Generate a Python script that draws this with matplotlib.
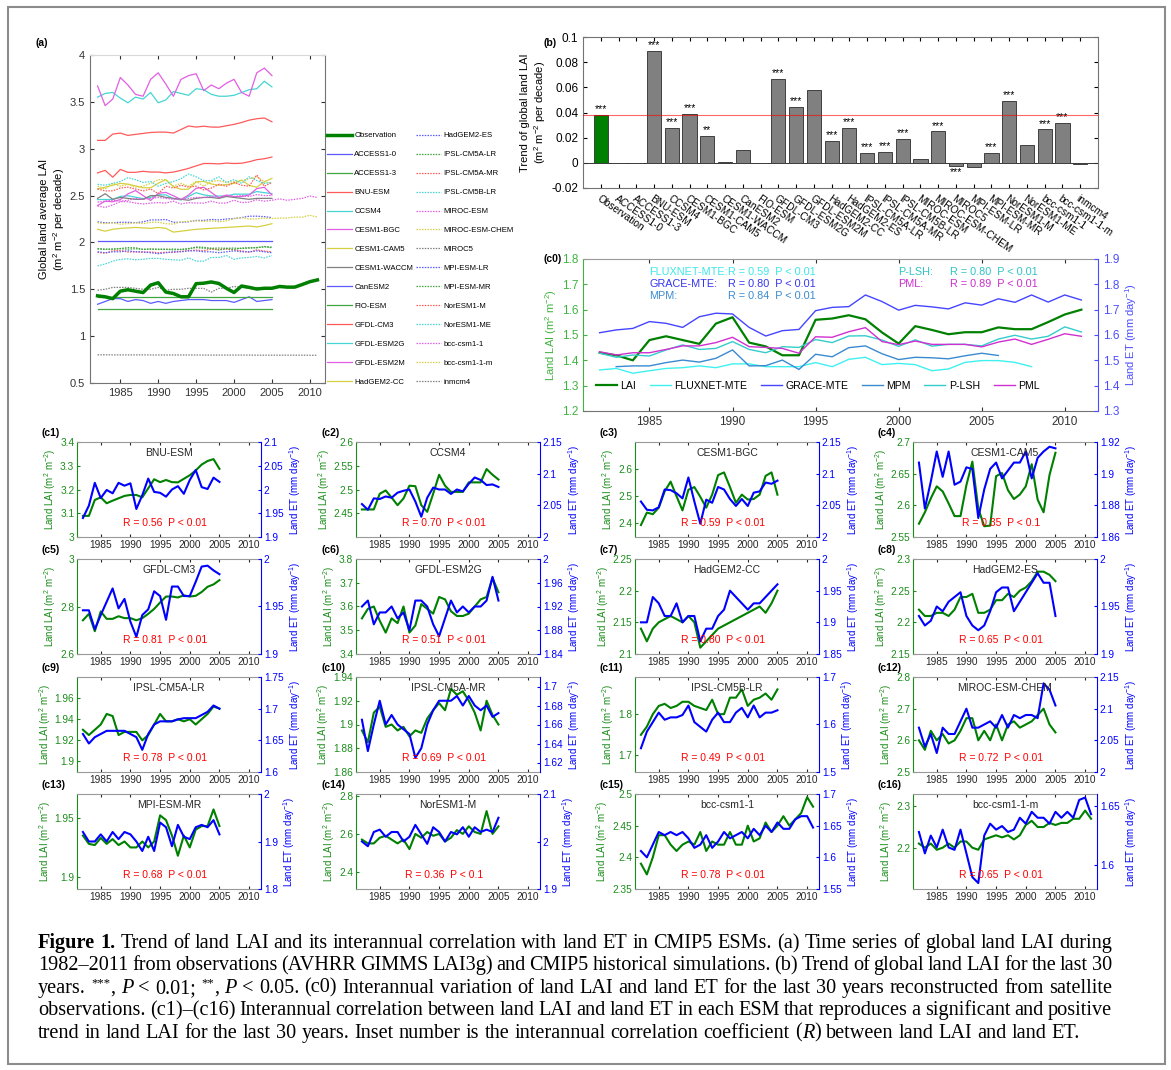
import re
import matplotlib
matplotlib.use("Agg")
import matplotlib.pyplot as plt
from matplotlib.patches import Rectangle
from matplotlib.lines import Line2D
import numpy as np

plt.rcParams["font.family"] = ["Liberation Sans", "DejaVu Sans"]
plt.rcParams["mathtext.fontset"] = "custom"
plt.rcParams["mathtext.rm"] = "Liberation Sans"
plt.rcParams["mathtext.it"] = "Liberation Sans:italic"
plt.rcParams["xtick.direction"] = "in"
plt.rcParams["ytick.direction"] = "in"
plt.rcParams["axes.linewidth"] = 0.8

W, H = 1171, 1070

# ---------------- data ----------------
yr24 = np.arange(1982, 2006)
yr30 = np.arange(1982, 2012)

obs_lai = [1.43, 1.42, 1.40, 1.48, 1.495, 1.48, 1.465, 1.545, 1.57, 1.47, 1.455, 1.42, 1.42, 1.56, 1.565,
           1.578, 1.562, 1.51, 1.466, 1.535, 1.52, 1.503, 1.511, 1.511, 1.53, 1.523, 1.523, 1.551, 1.581, 1.60]

# c0: satellite ET products
et_fluxnet = [1.462, 1.468, 1.449, 1.459, 1.468, 1.471, 1.478, 1.471, 1.486, 1.486, 1.475, 1.475, 1.475, 1.491,
              1.475, 1.504, 1.512, 1.483, 1.488, 1.483, 1.459, 1.466, 1.492, 1.499, 1.499, 1.492, 1.475]
et_grace = [1.609, 1.620, 1.626, 1.653, 1.646, 1.630, 1.672, 1.686, 1.683, 1.630, 1.596, 1.617, 1.622, 1.696, 1.709,
            1.712, 1.758, 1.732, 1.698, 1.717, 1.711, 1.703, 1.727, 1.718, 1.743, 1.729, 1.758, 1.730, 1.758, 1.738]
et_mpm = [1.475, 1.478, 1.478, 1.491, 1.501, 1.493, 1.508, 1.541, 1.478, 1.479, 1.501, 1.464, 1.524, 1.514, 1.550,
          1.557, 1.526, 1.503, 1.512, 1.510, 1.506, 1.518, 1.528, 1.519]
et_plsh = [1.528, 1.512, 1.521, 1.517, 1.541, 1.561, 1.543, 1.547, 1.574, 1.543, 1.530, 1.554, 1.551, 1.582, 1.570,
           1.596, 1.597, 1.580, 1.555, 1.581, 1.556, 1.563, 1.563, 1.557, 1.584, 1.599, 1.584, 1.595, 1.632, 1.612]
et_pml = [1.534, 1.521, 1.530, 1.530, 1.543, 1.557, 1.557, 1.570, 1.591, 1.554, 1.551, 1.547, 1.528, 1.593, 1.591,
          1.613, 1.629, 1.574, 1.562, 1.576, 1.563, 1.563, 1.563, 1.553, 1.572, 1.584, 1.563, 1.583, 1.605, 1.595]

# ESM land LAI / ET
lai_bnu = [3.089, 3.089, 3.156, 3.167, 3.142, 3.153, 3.163, 3.173, 3.177, 3.177, 3.167, 3.205, 3.243, 3.231, 3.240,
           3.231, 3.230, 3.245, 3.260, 3.280, 3.305, 3.320, 3.328, 3.287]
et_bnu = [1.940, 1.966, 2.014, 1.982, 1.999, 1.992, 2.014, 2.008, 2.013, 1.959, 1.988, 2.023, 1.995, 1.993, 1.985,
          2.000, 2.007, 1.991, 2.020, 2.041, 2.005, 2.001, 2.025, 2.016]
lai_ccsm4 = [2.458, 2.458, 2.458, 2.491, 2.498, 2.483, 2.467, 2.481, 2.508, 2.507, 2.467, 2.453, 2.491, 2.531, 2.508,
             2.495, 2.495, 2.495, 2.515, 2.515, 2.515, 2.543, 2.531, 2.521]
et_ccsm4 = [2.052, 2.043, 2.061, 2.060, 2.064, 2.062, 2.070, 2.073, 2.075, 2.056, 2.032, 2.062, 2.078, 2.075, 2.075,
            2.068, 2.075, 2.072, 2.084, 2.094, 2.090, 2.082, 2.083, 2.079]
lai_bgc = [2.394, 2.440, 2.434, 2.458, 2.518, 2.554, 2.500, 2.448, 2.524, 2.534, 2.498, 2.458, 2.506, 2.578, 2.588,
           2.534, 2.476, 2.506, 2.488, 2.490, 2.506, 2.575, 2.588, 2.506]
et_bgc = [2.056, 2.043, 2.042, 2.047, 2.075, 2.074, 2.069, 2.061, 2.094, 2.056, 2.021, 2.059, 2.054, 2.079, 2.075,
          2.060, 2.049, 2.060, 2.049, 2.070, 2.072, 2.086, 2.084, 2.089]
lai_cam5 = [2.571, 2.589, 2.611, 2.630, 2.622, 2.603, 2.583, 2.583, 2.632, 2.669, 2.595, 2.567, 2.568, 2.646, 2.651,
            2.624, 2.610, 2.617, 2.630, 2.665, 2.609, 2.589, 2.648, 2.683]
et_cam5 = [1.907, 1.878, 1.895, 1.914, 1.898, 1.914, 1.893, 1.895, 1.904, 1.903, 1.872, 1.890, 1.903, 1.907, 1.897,
           1.902, 1.907, 1.907, 1.914, 1.897, 1.910, 1.914, 1.917, 1.916]
lai_gfdlcm3 = [2.742, 2.769, 2.696, 2.779, 2.748, 2.748, 2.759, 2.751, 2.751, 2.742, 2.751, 2.769, 2.790, 2.817,
               2.842, 2.842, 2.838, 2.847, 2.842, 2.845, 2.861, 2.883, 2.893, 2.911]
et_gfdlcm3 = [1.946, 1.946, 1.926, 1.941, 1.955, 1.969, 1.948, 1.958, 1.934, 1.918, 1.941, 1.947, 1.966, 1.961,
              1.936, 1.971, 1.971, 1.961, 1.961, 1.976, 1.992, 1.993, 1.988, 1.984]
lai_esm2g = [3.55, 3.59, 3.60, 3.54, 3.49, 3.55, 3.53, 3.60, 3.49, 3.52, 3.61, 3.59, 3.57, 3.64, 3.63, 3.58, 3.56,
             3.56, 3.57, 3.60, 3.63, 3.64, 3.72, 3.66]
et_esm2g = [1.92, 1.93, 1.89, 1.91, 1.91, 1.92, 1.90, 1.91, 1.88, 1.93, 1.93, 1.92, 1.89, 1.87, 1.90, 1.93, 1.91,
            1.92, 1.91, 1.92, 1.92, 1.93, 1.97, 1.93]
lai_hadcc = [2.14, 2.12, 2.14, 2.15, 2.155, 2.16, 2.155, 2.15, 2.16, 2.15, 2.11, 2.12, 2.13, 2.14, 2.145, 2.15,
             2.155, 2.16, 2.165, 2.17, 2.175, 2.165, 2.18, 2.20]
et_hadcc = [1.90, 1.90, 1.94, 1.93, 1.91, 1.91, 1.93, 1.90, 1.91, 1.91, 1.87, 1.89, 1.89, 1.91, 1.92, 1.95, 1.94,
            1.93, 1.92, 1.93, 1.93, 1.94, 1.95, 1.96]
lai_hades = [2.22, 2.21, 2.21, 2.215, 2.215, 2.21, 2.22, 2.24, 2.24, 2.245, 2.215, 2.215, 2.22, 2.235, 2.235, 2.245,
             2.24, 2.25, 2.255, 2.265, 2.28, 2.28, 2.275, 2.265]
et_hades = [1.94, 1.93, 1.935, 1.95, 1.945, 1.955, 1.96, 1.965, 1.94, 1.93, 1.925, 1.93, 1.945, 1.965, 1.97, 1.97,
            1.945, 1.955, 1.965, 1.975, 1.985, 1.975, 1.975, 1.94]
lai_ipsl_alr = [1.93, 1.925, 1.93, 1.935, 1.945, 1.943, 1.925, 1.928, 1.928, 1.928, 1.92, 1.925, 1.935, 1.945,
                1.938, 1.938, 1.94, 1.938, 1.94, 1.935, 1.94, 1.945, 1.952, 1.95]
et_ipsl_alr = [1.66, 1.645, 1.655, 1.66, 1.665, 1.665, 1.665, 1.665, 1.66, 1.655, 1.635, 1.66, 1.675, 1.68, 1.68,
               1.68, 1.683, 1.685, 1.685, 1.685, 1.69, 1.695, 1.705, 1.70]
lai_ipsl_amr = [1.895, 1.885, 1.91, 1.915, 1.898, 1.90, 1.895, 1.898, 1.89, 1.895, 1.893, 1.905, 1.912, 1.918,
                1.912, 1.93, 1.925, 1.928, 1.92, 1.91, 1.895, 1.92, 1.908, 1.90]
et_ipsl_amr = [1.665, 1.632, 1.66, 1.685, 1.66, 1.67, 1.66, 1.655, 1.65, 1.625, 1.635, 1.66, 1.675, 1.685, 1.685,
               1.685, 1.69, 1.68, 1.69, 1.68, 1.675, 1.68, 1.668, 1.672]
lai_ipsl_blr = [1.75, 1.77, 1.80, 1.82, 1.825, 1.815, 1.82, 1.83, 1.83, 1.82, 1.815, 1.81, 1.835, 1.80, 1.80, 1.84,
                1.84, 1.86, 1.82, 1.835, 1.84, 1.85, 1.835, 1.86]
et_ipsl_blr = [1.55, 1.585, 1.605, 1.625, 1.61, 1.615, 1.615, 1.62, 1.64, 1.605, 1.595, 1.585, 1.61, 1.625, 1.605,
               1.605, 1.625, 1.635, 1.615, 1.64, 1.615, 1.625, 1.625, 1.63]
lai_chem = [2.60, 2.57, 2.63, 2.60, 2.62, 2.59, 2.60, 2.63, 2.67, 2.67, 2.60, 2.63, 2.60, 2.65, 2.60, 2.65, 2.66,
            2.64, 2.65, 2.66, 2.68, 2.70, 2.65, 2.625]
et_chem = [2.07, 2.04, 2.06, 2.03, 2.07, 2.06, 2.06, 2.08, 2.10, 2.07, 2.07, 2.075, 2.08, 2.07, 2.09, 2.07, 2.09,
           2.085, 2.09, 2.09, 2.085, 2.14, 2.13, 2.105]
lai_mpimr = [1.935, 1.928, 1.927, 1.933, 1.928, 1.932, 1.927, 1.93, 1.925, 1.925, 1.93, 1.925, 1.93, 1.952, 1.948,
             1.935, 1.918, 1.935, 1.925, 1.94, 1.943, 1.943, 1.957, 1.943]
et_mpimr = [1.92, 1.90, 1.90, 1.915, 1.90, 1.92, 1.905, 1.92, 1.915, 1.90, 1.88, 1.91, 1.88, 1.94, 1.93, 1.89,
            1.935, 1.91, 1.905, 1.93, 1.935, 1.93, 1.945, 1.915]
lai_noresm = [2.57, 2.55, 2.55, 2.58, 2.59, 2.57, 2.55, 2.57, 2.52, 2.60, 2.58, 2.61, 2.59, 2.60, 2.56, 2.58, 2.62,
              2.60, 2.64, 2.61, 2.60, 2.72, 2.60, 2.64]
et_noresm = [2.00, 1.99, 2.02, 2.025, 2.01, 2.02, 2.02, 2.00, 2.01, 2.035, 2.015, 1.995, 2.03, 2.02, 2.00, 2.02,
             2.015, 2.03, 2.01, 2.03, 2.02, 2.025, 2.02, 2.05]
lai_bcc = [2.39, 2.373, 2.40, 2.435, 2.435, 2.42, 2.41, 2.42, 2.425, 2.42, 2.44, 2.41, 2.425, 2.42, 2.42, 2.44,
           2.42, 2.42, 2.45, 2.425, 2.43, 2.455, 2.44, 2.45, 2.465, 2.45, 2.46, 2.47, 2.495, 2.48]
et_bcc = [1.61, 1.60, 1.62, 1.64, 1.635, 1.64, 1.635, 1.64, 1.63, 1.615, 1.62, 1.635, 1.615, 1.625, 1.64, 1.63,
          1.635, 1.64, 1.63, 1.645, 1.635, 1.65, 1.64, 1.655, 1.645, 1.645, 1.66, 1.665, 1.665, 1.647]
lai_bccm = [2.21, 2.20, 2.21, 2.195, 2.20, 2.21, 2.20, 2.215, 2.215, 2.20, 2.195, 2.22, 2.225, 2.23, 2.225, 2.23,
            2.22, 2.23, 2.255, 2.265, 2.25, 2.25, 2.26, 2.255, 2.26, 2.26, 2.27, 2.27, 2.29, 2.27]
et_bccm = [1.628, 1.61, 1.625, 1.615, 1.63, 1.615, 1.613, 1.63, 1.61, 1.59, 1.585, 1.625, 1.635, 1.63, 1.633, 1.628,
           1.63, 1.64, 1.635, 1.645, 1.64, 1.64, 1.635, 1.645, 1.64, 1.645, 1.64, 1.655, 1.657, 1.643]

# models that only appear in panel (a)
lai_access10 = [2.01, 2.01, 2.01, 2.01, 2.01, 2.01, 2.01, 2.01, 2.01, 2.01, 2.01, 2.01, 2.01, 2.01, 2.01, 2.01,
                2.01, 2.01, 2.01, 2.01, 2.01, 2.01, 2.01, 2.01]
lai_access13 = [1.29, 1.29, 1.29, 1.29, 1.29, 1.29, 1.29, 1.29, 1.29, 1.29, 1.29, 1.29, 1.29, 1.29, 1.29, 1.29,
                1.29, 1.29, 1.29, 1.29, 1.29, 1.29, 1.29, 1.29]
lai_waccm = [2.47, 2.52, 2.46, 2.48, 2.47, 2.46, 2.46, 2.50, 2.50, 2.48, 2.47, 2.46, 2.45, 2.47, 2.48, 2.48, 2.47,
             2.49, 2.48, 2.47, 2.46, 2.47, 2.47, 2.47]
lai_canesm2 = [1.34, 1.37, 1.40, 1.40, 1.37, 1.39, 1.38, 1.35, 1.37, 1.35, 1.37, 1.38, 1.39, 1.39, 1.39, 1.38, 1.38,
               1.38, 1.36, 1.39, 1.42, 1.37, 1.38, 1.39]
lai_fio = [1.42, 1.42, 1.42, 1.42, 1.42, 1.42, 1.42, 1.42, 1.42, 1.42, 1.42, 1.42, 1.42, 1.42, 1.42, 1.42, 1.42,
           1.42, 1.42, 1.42, 1.42, 1.42, 1.42, 1.42]
lai_esm2m = [3.67, 3.46, 3.53, 3.76, 3.68, 3.58, 3.56, 3.74, 3.81, 3.69, 3.56, 3.74, 3.78, 3.80, 3.62, 3.68, 3.64,
             3.70, 3.74, 3.60, 3.56, 3.81, 3.86, 3.78]
lai_miroc_esm = [2.43, 2.44, 2.45, 2.44, 2.45, 2.47, 2.46, 2.47, 2.48, 2.47, 2.46, 2.46, 2.47, 2.48, 2.48, 2.49,
                 2.48, 2.50, 2.49, 2.50, 2.49, 2.51, 2.50, 2.50]
lai_miroc5 = [1.49, 1.50, 1.52, 1.52, 1.52, 1.51, 1.50, 1.50, 1.52, 1.49, 1.50, 1.50, 1.51, 1.51, 1.51, 1.47, 1.51,
              1.51, 1.53, 1.52, 1.51, 1.52, 1.51, 1.51]
lai_mpilr = [1.90, 1.89, 1.90, 1.90, 1.91, 1.90, 1.90, 1.89, 1.88, 1.89, 1.90, 1.90, 1.91, 1.91, 1.90, 1.90, 1.89,
             1.90, 1.91, 1.90, 1.90, 1.91, 1.90, 1.89]
lai_noresm_me = [2.62, 2.61, 2.63, 2.65, 2.69, 2.67, 2.64, 2.65, 2.60, 2.63, 2.65, 2.68, 2.73, 2.70, 2.66, 2.66,
                 2.70, 2.64, 2.67, 2.63, 2.70, 2.66, 2.63, 2.64]
lai_inmcm4 = [0.801, 0.801, 0.800, 0.800, 0.800, 0.800, 0.800, 0.799, 0.799, 0.799, 0.799, 0.799, 0.799, 0.799,
              0.798, 0.798, 0.798, 0.798, 0.798, 0.798, 0.798, 0.797, 0.797, 0.797, 0.797, 0.797, 0.797, 0.797,
              0.796, 0.796]

# panel (b)
trend_names = ["Observation", "ACCESS1-0", "ACCESS1-3", "BNU-ESM", "CCSM4", "CESM1-BGC", "CESM1-CAM5",
               "CESM1-WACCM", "CanESM2", "FIO-ESM", "GFDL-CM3", "GFDL-ESM2G", "GFDL-ESM2M", "HadGEM2-CC",
               "HadGEM2-ES", "IPSL-CM5A-LR", "IPSL-CM5A-MR", "IPSL-CM5B-LR", "MIROC-ESM", "MIROC-ESM-CHEM",
               "MIROC5", "MPI-ESM-LR", "MPI-ESM-MR", "NorESM1-M", "NorESM1-ME", "bcc-csm1-1", "bcc-csm1-1-m",
               "inmcm4"]
trend_vals = [0.0378, 0.0, 0.0, 0.089, 0.0278, 0.039, 0.0212, 0.0008, 0.010, 0.0, 0.067, 0.0445, 0.058, 0.0177,
              0.028, 0.008, 0.0087, 0.019, 0.0034, 0.025, -0.0027, -0.0037, 0.008, 0.049, 0.0145, 0.0265, 0.032,
              -0.0008]
trend_sig = ["***", "", "", "***", "***", "***", "**", "", "", "", "***", "***", "", "***", "***", "***", "***",
             "***", "", "***", "***", "", "***", "***", "", "***", "***", ""]

# panel (a): models in legend order
model_names = trend_names[1:]
model_lai = [lai_access10, lai_access13, lai_bnu, lai_ccsm4, lai_bgc, lai_cam5, lai_waccm, lai_canesm2, lai_fio,
             lai_gfdlcm3, lai_esm2g, lai_esm2m, lai_hadcc, lai_hades, lai_ipsl_alr, lai_ipsl_amr, lai_ipsl_blr,
             lai_miroc_esm, lai_chem, lai_miroc5, lai_mpilr, lai_mpimr, lai_noresm, lai_noresm_me, lai_bcc,
             lai_bccm, lai_inmcm4]

# panels c1-c16
c_names = ["BNU-ESM", "CCSM4", "CESM1-BGC", "CESM1-CAM5", "GFDL-CM3", "GFDL-ESM2G", "HadGEM2-CC", "HadGEM2-ES",
           "IPSL-CM5A-LR", "IPSL-CM5A-MR", "IPSL-CM5B-LR", "MIROC-ESM-CHEM", "MPI-ESM-MR", "NorESM1-M",
           "bcc-csm1-1", "bcc-csm1-1-m"]
c_lai = [lai_bnu, lai_ccsm4, lai_bgc, lai_cam5, lai_gfdlcm3, lai_esm2g, lai_hadcc, lai_hades, lai_ipsl_alr,
         lai_ipsl_amr, lai_ipsl_blr, lai_chem, lai_mpimr, lai_noresm, lai_bcc, lai_bccm]
c_et = [et_bnu, et_ccsm4, et_bgc, et_cam5, et_gfdlcm3, et_esm2g, et_hadcc, et_hades, et_ipsl_alr, et_ipsl_amr,
        et_ipsl_blr, et_chem, et_mpimr, et_noresm, et_bcc, et_bccm]
c_r = ["0.56", "0.70", "0.59", "0.35", "0.81", "0.51", "0.80", "0.65", "0.78", "0.69", "0.49", "0.72", "0.68",
       "0.36", "0.78", "0.65"]
c_p = ["0.01", "0.01", "0.01", "0.1", "0.01", "0.01", "0.01", "0.01", "0.01", "0.01", "0.01", "0.01", "0.01",
       "0.1", "0.01", "0.01"]
c_lai_lim = [(3.0, 3.4), (2.4, 2.6), (2.35, 2.7), (2.55, 2.7), (2.6, 3.0), (3.4, 3.8), (2.1, 2.25), (2.15, 2.3),
             (1.89, 1.98), (1.86, 1.94), (1.66, 1.89), (2.5, 2.8), (1.89, 1.97), (2.31, 2.81), (2.35, 2.5),
             (2.1, 2.33)]
c_lai_ticks = [[3, 3.1, 3.2, 3.3, 3.4], [2.45, 2.5, 2.55, 2.6], [2.4, 2.5, 2.6], [2.55, 2.6, 2.65, 2.7],
               [2.6, 2.8, 3], [3.4, 3.5, 3.6, 3.7, 3.8], [2.1, 2.15, 2.2, 2.25], [2.15, 2.2, 2.25, 2.3],
               [1.9, 1.92, 1.94, 1.96], [1.86, 1.88, 1.9, 1.92, 1.94], [1.7, 1.8], [2.5, 2.6, 2.7, 2.8],
               [1.9, 1.95], [2.4, 2.6, 2.8], [2.35, 2.4, 2.45, 2.5], [2.2, 2.3]]
c_et_lim = [(1.9, 2.1), (2.0, 2.15), (2.0, 2.15), (1.86, 1.92), (1.9, 2.0), (1.84, 2.0), (1.85, 2.0), (1.9, 2.0),
            (1.6, 1.75), (1.61, 1.71), (1.5, 1.7), (2.0, 2.15), (1.8, 2.0), (1.9, 2.1), (1.55, 1.7), (1.58, 1.66)]
c_et_ticks = [[1.9, 1.95, 2, 2.05, 2.1], [2, 2.05, 2.1, 2.15], [2, 2.05, 2.1, 2.15], [1.86, 1.88, 1.9, 1.92],
              [1.9, 1.95, 2], [1.84, 1.88, 1.92, 1.96, 2], [1.85, 1.9, 1.95, 2], [1.9, 1.95, 2],
              [1.6, 1.65, 1.7, 1.75], [1.62, 1.64, 1.66, 1.68, 1.7], [1.5, 1.6, 1.7], [2, 2.05, 2.1, 2.15],
              [1.8, 1.9, 2], [1.9, 2, 2.1], [1.55, 1.6, 1.65, 1.7], [1.6, 1.65]]

# ---------------- figure ----------------
fig = plt.figure(figsize=(W / 100, H / 100), dpi=100)


def box(left, top, w, h):
    return [left / W, 1 - (top + h) / H, w / W, h / H]


def ftext(x, y, s, **kw):
    return fig.text(x / W, 1 - y / H, s, **kw)


GREEN = (0, 0.5, 0)
GREEN_T = (0.1, 0.55, 0.1)
cycle = ["#5a5aff", "#3fa53f", "#ff5a5a", "#45d5d5", "#e25ee2", "#d6d040", "#808080"]

# ---- (a) ----
axa = fig.add_axes(box(90, 55, 235, 328))
handles = [Line2D([], [], color=GREEN, lw=2.5, label="Observation")]
axa.plot(yr30, obs_lai, color=GREEN, lw=2.5, zorder=5)
for i, (name, vals) in enumerate(zip(model_names, model_lai)):
    if i < 13:
        col, ls = cycle[i % 7], "-"
    else:
        col, ls = cycle[(i - 13) % 7], (0, (1.2, 1.0))
    ln, = axa.plot(1982 + np.arange(len(vals)), vals, color=col, ls=ls, lw=0.9, label=name)
    handles.append(ln)
axa.set_xlim(1981, 2012)
axa.set_ylim(0.5, 4)
axa.set_xticks([1985, 1990, 1995, 2000, 2005, 2010])
axa.set_yticks([0.5, 1, 1.5, 2, 2.5, 3, 3.5, 4])
axa.set_yticklabels(["0.5", "1", "1.5", "2", "2.5", "3", "3.5", "4"])
axa.tick_params(labelsize=8, right=True, top=True, length=3, colors="0.2")
for s in axa.spines.values():
    s.set_color("0.45")
axa.spines["top"].set_color("0.85")
axa.set_ylabel("Global land average LAI\n(m$^2$ m$^{-2}$ per decade)", fontsize=8, labelpad=2)
ftext(35, 43, "(a)", fontsize=7.5, weight="bold", va="center")

fig.legend(handles=handles, ncol=2, loc="upper left", bbox_to_anchor=(327 / W, 1 - 132 / H), frameon=False,
           fontsize=5.6, handlelength=3.2, handletextpad=0.3, labelspacing=1.48, columnspacing=0.4,
           borderpad=0, borderaxespad=0)

# ---- (b) ----
axb = fig.add_axes(box(583, 37, 515, 151))
xb = np.arange(1, len(trend_vals) + 1)
bar_cols = [GREEN] + ["0.5"] * (len(trend_vals) - 1)
axb.bar(xb, trend_vals, width=0.8, color=bar_cols, edgecolor="0.25", linewidth=0.7, zorder=3)
for x, v, s in zip(xb, trend_vals, trend_sig):
    if s:
        if v >= 0:
            axb.text(x, v + 0.0006, s, ha="center", va="bottom", fontsize=7.5)
        else:
            axb.text(x, v - 0.001, s, ha="center", va="top", fontsize=7.5)
axb.axhline(trend_vals[0], color="red", lw=0.8, alpha=0.6, zorder=4)
axb.axhline(0, color="0.2", lw=0.7, zorder=2)
axb.set_xlim(0, 29)
axb.set_ylim(-0.02, 0.1)
axb.set_yticks([-0.02, 0, 0.02, 0.04, 0.06, 0.08, 0.1])
axb.set_yticklabels(["-0.02", "0", "0.02", "0.04", "0.06", "0.08", "0.1"])
axb.set_xticks(xb)
axb.set_xticklabels(trend_names, rotation=-35, ha="left", va="top", rotation_mode="anchor", fontsize=7.3)
axb.tick_params(axis="y", labelsize=8.5, right=True, length=3)
axb.tick_params(axis="x", top=True, length=3, pad=4)
for s in axb.spines.values():
    s.set_color("0.45")
axb.set_ylabel("Trend of global land LAI\n(m$^2$ m$^{-2}$ per decade)", fontsize=8, labelpad=2)
ftext(543, 43, "(b)", fontsize=7.5, weight="bold", va="center")

# ---- (c0) ----
LG = (0.25, 0.7, 0.25)
LB = (0.3, 0.3, 1.0)
axc = fig.add_axes(box(583, 259, 515, 152))
axe = axc.twinx()
h0, = axc.plot(yr30, obs_lai, color=GREEN, lw=1.6, label="LAI")
h1, = axe.plot(1982 + np.arange(len(et_fluxnet)), et_fluxnet, color="#40f0f0", lw=1.0, label="FLUXNET-MTE")
h2, = axe.plot(yr30, et_grace, color="#4545ff", lw=1.0, label="GRACE-MTE")
h3, = axe.plot(1983 + np.arange(len(et_mpm)), et_mpm, color="#3a8ad0", lw=1.0, label="MPM")
h4, = axe.plot(yr30, et_plsh, color="#35cccc", lw=1.0, label="P-LSH")
h5, = axe.plot(yr30, et_pml, color="#d030d0", lw=1.0, label="PML")
axc.set_xlim(1981, 2012)
axc.set_ylim(1.2, 1.8)
axe.set_ylim(1.3, 1.9)
axc.set_xticks([1985, 1990, 1995, 2000, 2005, 2010])
axc.set_yticks([1.2, 1.3, 1.4, 1.5, 1.6, 1.7, 1.8])
axe.set_yticks([1.3, 1.4, 1.5, 1.6, 1.7, 1.8, 1.9])
axc.tick_params(axis="x", labelsize=8.5, top=True, length=3, colors="0.2")
axc.tick_params(axis="y", labelsize=8.5, length=3, colors=LG)
axe.tick_params(axis="y", labelsize=8.5, length=3, colors=LB)
axc.spines["left"].set_color(LG)
axc.spines["right"].set_visible(False)
axc.spines["top"].set_color("0.6")
axc.spines["bottom"].set_color("0.45")
axe.spines["right"].set_color(LB)
axe.spines["left"].set_visible(False)
axe.spines["top"].set_visible(False)
axe.spines["bottom"].set_visible(False)
axc.set_ylabel("Land LAI (m$^2$ m$^{-2}$)", fontsize=8, color=LG, labelpad=2)
axe.set_ylabel("Land ET (mm day$^{-1}$)", fontsize=8, color=LB, labelpad=3)
axe.legend(handles=[h0, h1, h2, h3, h4, h5], ncol=6, loc="center left", bbox_to_anchor=(0.015, 0.167),
           frameon=False, fontsize=7.6, handlelength=2.0, handletextpad=0.3, columnspacing=1.3, borderpad=0)
ftext(544, 259, "(c0)", fontsize=7.5, weight="bold", va="center")

ann_left = [("FLUXNET-MTE:", "0.59", "#3de8e8", 272), ("GRACE-MTE:", "0.80", "#3535f0", 284),
            ("MPM:", "0.84", "#3a8ad0", 296)]
for lab, r, col, y in ann_left:
    ftext(649, y, lab, fontsize=7.8, color=col, va="center")
    ftext(728, y, "R = " + r + "  P < 0.01", fontsize=7.8, color=col, va="center")
ann_right = [("P-LSH:", "0.80", "#2ec4c4", 272), ("PML:", "0.89", "#cc2ecc", 284)]
for lab, r, col, y in ann_right:
    ftext(898, y, lab, fontsize=7.8, color=col, va="center")
    ftext(950, y, "R = " + r + "  P < 0.01", fontsize=7.8, color=col, va="center")

# ---- (c1)-(c16) ----
lefts = [77, 356, 635, 913]
tops = [442, 559, 677, 794]
for k in range(16):
    col, row = k % 4, k // 4
    ax = fig.add_axes(box(lefts[col], tops[row], 184, 95))
    ax2 = ax.twinx()
    lai, et = c_lai[k], c_et[k]
    ax.plot(1982 + np.arange(len(lai)), lai, color=GREEN, lw=1.5)
    ax2.plot(1982 + np.arange(len(et)), et, color="blue", lw=1.5)
    ax.set_xlim(1981, 2012)
    ax.set_ylim(*c_lai_lim[k])
    ax2.set_ylim(*c_et_lim[k])
    ax.set_xticks([1985, 1990, 1995, 2000, 2005, 2010])
    ax.set_yticks(c_lai_ticks[k])
    ax.set_yticklabels(["%g" % v for v in c_lai_ticks[k]])
    ax2.set_yticks(c_et_ticks[k])
    ax2.set_yticklabels(["%g" % v for v in c_et_ticks[k]])
    ax.tick_params(axis="x", labelsize=7.3, top=True, length=2.5, colors="0.15", pad=2.5)
    ax.tick_params(axis="y", labelsize=7.3, length=2.5, colors=GREEN_T, pad=2)
    ax2.tick_params(axis="y", labelsize=7.3, length=2.5, colors="blue", pad=2)
    ax.spines["left"].set_color(GREEN_T)
    ax.spines["right"].set_visible(False)
    ax.spines["top"].set_color("0.6")
    ax.spines["bottom"].set_color("0.6")
    ax2.spines["right"].set_color("blue")
    ax2.spines["left"].set_visible(False)
    ax2.spines["top"].set_visible(False)
    ax2.spines["bottom"].set_visible(False)
    ax.set_ylabel("Land LAI (m$^2$ m$^{-2}$)", fontsize=7, color=GREEN_T, labelpad=1.5)
    ax2.set_ylabel("Land ET (mm day$^{-1}$)", fontsize=7, color="blue", labelpad=2.5)
    ax2.text(0.5, 0.885, c_names[k], transform=ax2.transAxes, ha="center", va="center", fontsize=7.5,
             color="0.15")
    ax2.text(0.48, 0.15, "R = " + c_r[k] + "  P < " + c_p[k], transform=ax2.transAxes, ha="center",
             va="center", fontsize=7.5, color="red")
    ftext(lefts[col] - 35, tops[row] - 9, "(c%d)" % (k + 1), fontsize=7.5, weight="bold", va="center")

# ---- frame ----
fig.patches.append(Rectangle((8 / W, 1 - 1064 / H), 1157 / W, 1057 / H, transform=fig.transFigure,
                             fill=False, edgecolor="0.55", lw=1.5))

# ---- caption (justified lines) ----
renderer = fig.canvas.get_renderer()
CAP = 14.6
CAP_X0, CAP_X1 = 38, 1112


def seg_width(s, **kw):
    t1 = fig.text(0, 0, "|" + s + "|", **kw)
    t2 = fig.text(0, 0, "||", **kw)
    w = t1.get_window_extent(renderer).width - t2.get_window_extent(renderer).width
    t1.remove()
    t2.remove()
    return w


def style_kw(style):
    kw = dict(family="Liberation Serif", fontsize=CAP)
    if style == "b":
        kw["weight"] = "bold"
    elif style == "i":
        kw["style"] = "italic"
    elif style == "sup":
        kw["fontsize"] = CAP * 0.62
    return kw


def caption_line(y, parts, justify=True):
    tokens = []
    for s, style in parts:
        for tok in re.split(r"( )", s):
            if tok:
                tokens.append((tok, style))
    widths = [seg_width(t, **style_kw(st)) for t, st in tokens]
    n_sp = sum(1 for t, _ in tokens if t == " ")
    extra = (CAP_X1 - CAP_X0 - sum(widths)) / n_sp if (justify and n_sp) else 0
    x = CAP_X0
    for (tok, st), w in zip(tokens, widths):
        if tok == " ":
            x += w + extra
            continue
        dy = 6 if st == "sup" else 0
        ftext(x, y - dy, tok, va="baseline", **style_kw(st))
        x += w


cap_lines = [
    [("Figure 1.", "b"), (" Trend of land LAI and its interannual correlation with land ET in CMIP5 ESMs. (a) Time "
                          "series of global land LAI during", "")],
    [("1982\u20132011 from observations (AVHRR GIMMS LAI3g) and CMIP5 historical simulations. (b) Trend of global "
      "land LAI for the last 30", "")],
    [("years. ", ""), ("***", "sup"), (", ", ""), ("P", "i"), (" < 0.01; ", ""), ("**", "sup"), (", ", ""),
     ("P", "i"), (" < 0.05. (c0) Interannual variation of land LAI and land ET for the last 30 years reconstructed "
                  "from satellite", "")],
    [("observations. (c1)\u2013(c16) Interannual correlation between land LAI and land ET in each ESM that "
      "reproduces a significant and positive", "")],
    [("trend in land LAI for the last 30 years. Inset number is the interannual correlation coefficient (", ""),
     ("R", "i"), (") between land LAI and land ET.", "")],
]
for i, parts in enumerate(cap_lines):
    caption_line(948 + 22.4 * i, parts, justify=(i < 4))

fig.savefig("out.png", dpi=100)
